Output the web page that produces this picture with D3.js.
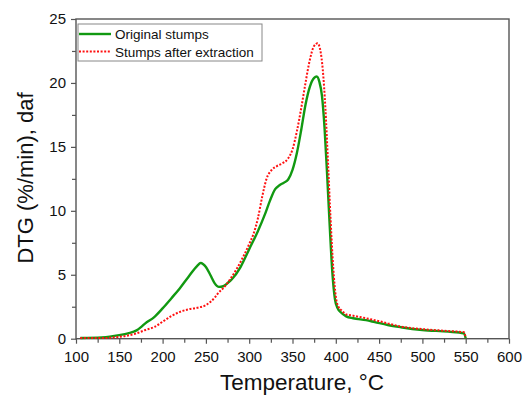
<!DOCTYPE html>
<html><head><meta charset="utf-8">
<script src="https://cdn.jsdelivr.net/npm/d3@7"></script>
<style>body{margin:0;background:#fff}text{font-family:"Liberation Sans",Arial,sans-serif}</style>
</head><body><svg id="c" width="528" height="399"></svg>
<script>
const seriesNames = ["Original stumps", "Stumps after extraction"];
const xTicks = [100,150,200,250,300,350,400,450,500,550,600];
const yTicks = [0,5,10,15,20,25];
const origT = [105,130,150,160,170,175,180,190,200,210,220,230,240,244,250,255,260,265,270,275,280,290,300,310,318,324,330,335,340,345,350,355,360,365,370,375,378,381,384,387,390,393,396,399,402,406,412,420,435,445,460,475,500,530,548,550];
const origV = [0.05,0.1,0.28,0.42,0.65,0.9,1.2,1.67,2.37,3.15,3.95,4.85,5.7,5.92,5.6,5.0,4.35,4.05,4.1,4.35,4.65,5.6,7.0,8.4,9.7,10.8,11.7,12.0,12.2,12.45,13.2,14.5,16.3,18.3,19.7,20.4,20.5,20.1,19.0,16.5,12.8,8.8,5.2,3.1,2.4,2.05,1.75,1.6,1.45,1.3,1.07,0.9,0.68,0.55,0.42,0.02];
const extT = [105,130,150,160,170,180,190,200,210,220,230,240,250,260,264,270,275,280,290,300,305,310,315,320,326,332,338,345,350,355,360,365,370,375,379,382,385,388,391,394,397,400,403,407,412,420,435,445,460,475,500,530,548,550];
const extV = [0.05,0.05,0.15,0.25,0.42,0.68,0.9,1.33,1.77,2.1,2.3,2.42,2.63,3.2,3.55,3.95,4.37,4.85,6.0,7.4,8.2,9.4,11.1,12.5,13.2,13.5,13.7,14.1,14.8,16.2,18.0,20.0,21.8,22.9,23.1,22.6,21.0,18.0,13.8,9.3,5.6,3.3,2.5,2.2,1.9,1.8,1.6,1.45,1.2,0.95,0.75,0.6,0.5,0.05];

const svg = d3.select("#c");
const L=76, R=509, T=19, B=338.7;
const x = d3.scaleLinear().domain([100,600]).range([L,R]);
const y = d3.scaleLinear().domain([0,25]).range([B,T]);
const axisCol = "#555";

// frame
svg.append("rect").attr("x",L).attr("y",T).attr("width",R-L).attr("height",B-T)
  .attr("fill","none").attr("stroke",axisCol).attr("stroke-width",1.4);

// x axis
const gx = svg.append("g").attr("transform",`translate(0,${B})`);
gx.call(d3.axisBottom(x).tickValues(d3.range(125,600,50)).tickSize(4).tickFormat(""));
gx.call(g=>g.select(".domain").remove());
const gx2 = svg.append("g").attr("transform",`translate(0,${B})`);
gx2.call(d3.axisBottom(x).tickValues(xTicks).tickSize(5).tickPadding(4).tickFormat(d3.format("d")));
gx2.select(".domain").remove();
gx2.selectAll("text").attr("font-size",15).attr("fill","#111").attr("dy","0.95em");

// y axis
const gy = svg.append("g").attr("transform",`translate(${L},0)`);
gy.call(d3.axisLeft(y).tickValues(d3.range(2.5,25,5)).tickSize(4).tickFormat(""));
gy.select(".domain").remove();
const gy2 = svg.append("g").attr("transform",`translate(${L},0)`);
gy2.call(d3.axisLeft(y).tickValues(yTicks).tickSize(5).tickPadding(5));
gy2.select(".domain").remove();
gy2.selectAll("text").attr("font-size",15).attr("fill","#111");
svg.selectAll("g .tick line").attr("stroke",axisCol).attr("stroke-width",1.2);

// titles
svg.append("text").attr("x",302).attr("y",390).attr("text-anchor","middle")
  .attr("font-size",22.5).attr("fill","#111").text("Temperature, °C");
svg.append("text").attr("transform","translate(33,178) rotate(-90)").attr("text-anchor","middle")
  .attr("font-size",22).attr("fill","#111").text("DTG (%/min), daf");

// lines
const line = d3.line().x(d=>x(d[0])).y(d=>y(d[1])).curve(d3.curveMonotoneX);
svg.append("path").datum(origT.map((t,i)=>[t,origV[i]])).attr("d",line)
  .attr("fill","none").attr("stroke","#119911").attr("stroke-width",2.4);
svg.append("path").datum(extT.map((t,i)=>[t,extV[i]])).attr("d",line)
  .attr("fill","none").attr("stroke","#ff1010").attr("stroke-width",2).attr("stroke-dasharray","2,1.6");

// legend
const lg = svg.append("g");
lg.append("rect").attr("x",78).attr("y",24).attr("width",184).attr("height",37)
  .attr("fill","#fff").attr("stroke","#888").attr("stroke-width",1);
const styles = [{c:"#119911",w:2.4,d:null},{c:"#ff1010",w:2,d:"2,1.6"}];
seriesNames.forEach((n,i)=>{
  const yy = 34 + i*17.5;
  lg.append("line").attr("x1",79).attr("x2",111).attr("y1",yy).attr("y2",yy)
    .attr("stroke",styles[i].c).attr("stroke-width",styles[i].w).attr("stroke-dasharray",styles[i].d);
  lg.append("text").attr("x",115).attr("y",yy+5).attr("font-size",13.5).attr("fill","#111").text(n);
});
</script></body></html>
